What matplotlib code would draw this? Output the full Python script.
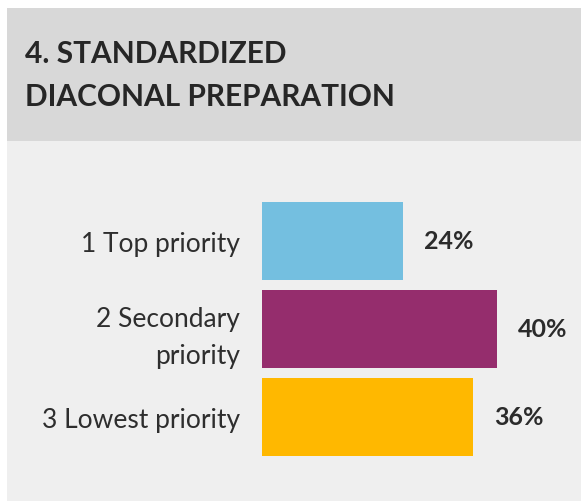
import matplotlib.pyplot as plt
from matplotlib.patches import Rectangle

plt.rcParams['font.family'] = ['Lato', 'DejaVu Sans']

title_lines = ["4. STANDARDIZED", "DIACONAL PREPARATION"]
categories = ["1 Top priority", "2 Secondary\npriority", "3 Lowest priority"]
values = [24, 40, 36]
colors = ["#74bfe0", "#952d6d", "#ffb800"]

W, H = 581, 502
fig = plt.figure(figsize=(W / 100, H / 100), dpi=100)
fig.patch.set_facecolor("white")

# panel backgrounds, header and body
fig.patches.append(Rectangle((7 / W, (H - 142) / H), 1, 133 / H,
                             transform=fig.transFigure, facecolor="#d8d8d8",
                             edgecolor="none", zorder=-5))
fig.patches.append(Rectangle((7 / W, 0), 1, (H - 142) / H,
                             transform=fig.transFigure, facecolor="#efefef",
                             edgecolor="none", zorder=-5))

for line, base in zip(title_lines, [63, 106]):
    fig.text(25 / W, 1 - base / H, line, ha="left", va="baseline", fontsize=21.5,
             fontweight="bold", color="#262626")

# bar axes
px_per_unit = 5.87
left_px, top_px, bot_px = 262, 160, 500
ax = fig.add_axes([left_px / W, (H - bot_px) / H, (W - left_px) / W, (bot_px - top_px) / H])
ax.set_facecolor("none")
row_px = 88
y0 = 242
ax.set_xlim(0, (W - left_px) / px_per_unit)
ax.set_ylim((bot_px - y0) / row_px, (top_px - y0) / row_px)

pos = list(range(len(values)))
ax.barh(pos, values, height=0.886, color=colors)
for p, v in zip(pos, values):
    ax.text(v + 21 / px_per_unit, p, f"{v}%", va="center", ha="left",
            fontsize=18, fontweight="bold", color="#2b2b2b")

ax.set_yticks(pos)
ax.set_yticklabels(categories, fontsize=19, color="#2e2e2e", linespacing=1.6)
ax.tick_params(axis="y", length=0, pad=16)
ax.set_xticks([])
for s in ax.spines.values():
    s.set_visible(False)

fig.savefig("out.png", dpi=100)
